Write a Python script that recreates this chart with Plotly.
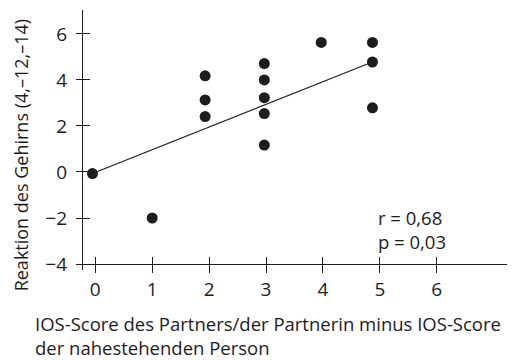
import plotly.graph_objects as go

# Data
ios_diff = [-0.05, 1.0, 1.93, 1.93, 1.93, 2.97, 2.97, 2.97, 2.97, 2.97, 3.97, 4.87, 4.87, 4.87]
brain_resp = [-0.07, -2.0, 4.18, 3.13, 2.41, 4.71, 4.0, 3.23, 2.54, 1.17, 5.63, 5.63, 4.78, 2.79]
trend_x = [-0.05, 4.87]
trend_y = [-0.07, 4.78]
x_ticks = [0, 1, 2, 3, 4, 5, 6]
y_ticks = [-4, -2, 0, 2, 4, 6]
y_tick_labels = ["\u22124", "\u22122", "0", "2", "4", "6"]
stats_lines = ["r = 0,68", "p = 0,03"]
x_title_lines = ["IOS-Score des Partners/der Partnerin minus IOS-Score", "der nahestehenden Person"]
y_title = "Reaktion des Gehirns (4,\u201312,\u201314)"

INK = "#1e1c1d"
FONT = "Open Sans"
FS = 19
FS_T = 18.5
FS_Y = 18

# page has an 8px body margin: figure origin is at page (8, 8)
OFF = 8
W, H = 519 - OFF, 360 - OFF
# target plot area in page pixels
px0, px1, py0, py1 = 82.7, 507, 10, 270
ml, mr, mt, mb = px0 - OFF, W - (px1 - OFF), py0 - OFF, H - (py1 - OFF)
plot_w = px1 - px0
plot_h = py1 - py0


def paper_x(px):
    return (px - px0) / plot_w


def paper_y(py):
    return (py1 - py) / plot_h


x_range = [-0.216, 7.234]
y_range = [-4.26, 7.04]
x_pos = (-4 - y_range[0]) / (y_range[1] - y_range[0])

fig = go.Figure()
fig.add_trace(go.Scatter(x=trend_x, y=trend_y, mode="lines",
                         line=dict(color=INK, width=1.1), showlegend=False, hoverinfo="skip"))
fig.add_trace(go.Scatter(x=ios_diff, y=brain_resp, mode="markers",
                         marker=dict(color=INK, size=11), showlegend=False))

axis_common = dict(showgrid=False, zeroline=False, tickcolor=INK, tickwidth=1.3,
                   linecolor=INK, linewidth=1.3, showline=True, automargin=False,
                   tickfont=dict(family=FONT, size=FS, color=INK))

fig.update_layout(
    width=W, height=H,
    margin=dict(l=ml, r=mr, t=mt, b=mb, pad=0),
    plot_bgcolor="white", paper_bgcolor="white",
    font=dict(family=FONT, color=INK),
    xaxis=dict(range=x_range, tickmode="array", tickvals=x_ticks, ticks="outside",
               ticklen=8, anchor="free", position=x_pos, ticklabelstandoff=0, **axis_common),
    xaxis2=dict(range=x_range, tickmode="array", tickvals=x_ticks, ticks="inside",
                ticklen=7, anchor="free", position=x_pos, overlaying="x",
                showticklabels=False, **axis_common),
    yaxis=dict(range=y_range, tickmode="array", tickvals=y_ticks, ticktext=y_tick_labels,
               ticks="outside", ticklen=6, ticklabelstandoff=5, **axis_common),
    yaxis2=dict(range=y_range, tickmode="array", tickvals=y_ticks, ticks="inside",
                ticklen=7, overlaying="y", showticklabels=False, **axis_common),
)
# empty trace to activate the overlay axes (inner half of the crossing ticks)
fig.add_trace(go.Scatter(x=[None], y=[None], xaxis="x2", yaxis="y2", showlegend=False))

fig.add_annotation(x=paper_x(376), y=-2.5, xref="paper", yref="y",
                   text="<br>".join(stats_lines), showarrow=False,
                   xanchor="left", yanchor="middle", align="left",
                   font=dict(family=FONT, size=FS_T, color=INK))

fig.add_annotation(x=paper_x(33), y=paper_y(335), xref="paper", yref="paper",
                   text="<br>".join(x_title_lines), showarrow=False,
                   xanchor="left", yanchor="middle", align="left",
                   font=dict(family=FONT, size=FS_T, color=INK))
fig.add_annotation(x=paper_x(21), y=paper_y(155), xref="paper", yref="paper",
                   text=y_title, textangle=-90,
                   showarrow=False, xanchor="center", yanchor="middle",
                   font=dict(family=FONT, size=FS_Y, color=INK))

fig.write_html("out.html")
